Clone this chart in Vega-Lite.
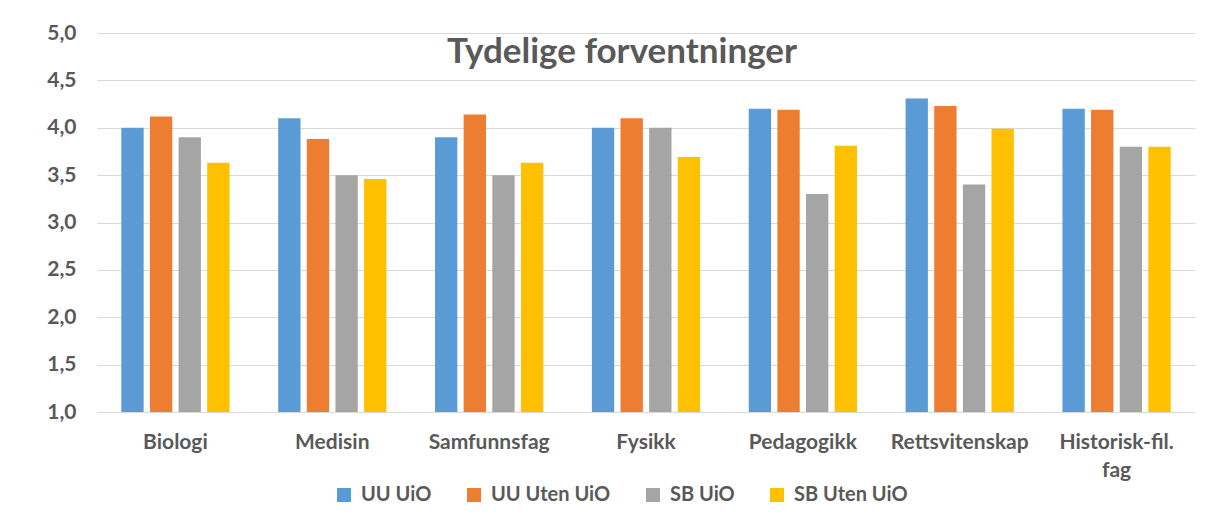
{
  "$schema": "https://vega.github.io/schema/vega-lite/v6.json",
  "width": 1098,
  "height": 379,
  "autosize": {"type": "none"},
  "padding": {"left": 97, "top": 33, "right": 24, "bottom": 115},
  "background": "white",
  "title": {
    "text": "Tydelige forventninger",
    "frame": "group",
    "anchor": "middle",
    "orient": "top",
    "baseline": "alphabetic",
    "offset": -34,
    "dy": 42,
    "dx": -24,
    "font": "Lato",
    "fontSize": 35,
    "fontWeight": "bold",
    "color": "#595959"
  },
  "data": {
    "values": [
      {"fag": "Biologi", "gruppe": "UU UiO", "verdi": 4.0},
      {"fag": "Biologi", "gruppe": "UU Uten UiO", "verdi": 4.12},
      {"fag": "Biologi", "gruppe": "SB UiO", "verdi": 3.9},
      {"fag": "Biologi", "gruppe": "SB Uten UiO", "verdi": 3.63},
      {"fag": "Medisin", "gruppe": "UU UiO", "verdi": 4.1},
      {"fag": "Medisin", "gruppe": "UU Uten UiO", "verdi": 3.88},
      {"fag": "Medisin", "gruppe": "SB UiO", "verdi": 3.5},
      {"fag": "Medisin", "gruppe": "SB Uten UiO", "verdi": 3.46},
      {"fag": "Samfunnsfag", "gruppe": "UU UiO", "verdi": 3.9},
      {"fag": "Samfunnsfag", "gruppe": "UU Uten UiO", "verdi": 4.14},
      {"fag": "Samfunnsfag", "gruppe": "SB UiO", "verdi": 3.5},
      {"fag": "Samfunnsfag", "gruppe": "SB Uten UiO", "verdi": 3.63},
      {"fag": "Fysikk", "gruppe": "UU UiO", "verdi": 4.0},
      {"fag": "Fysikk", "gruppe": "UU Uten UiO", "verdi": 4.1},
      {"fag": "Fysikk", "gruppe": "SB UiO", "verdi": 4.0},
      {"fag": "Fysikk", "gruppe": "SB Uten UiO", "verdi": 3.69},
      {"fag": "Pedagogikk", "gruppe": "UU UiO", "verdi": 4.2},
      {"fag": "Pedagogikk", "gruppe": "UU Uten UiO", "verdi": 4.19},
      {"fag": "Pedagogikk", "gruppe": "SB UiO", "verdi": 3.3},
      {"fag": "Pedagogikk", "gruppe": "SB Uten UiO", "verdi": 3.81},
      {"fag": "Rettsvitenskap", "gruppe": "UU UiO", "verdi": 4.31},
      {"fag": "Rettsvitenskap", "gruppe": "UU Uten UiO", "verdi": 4.23},
      {"fag": "Rettsvitenskap", "gruppe": "SB UiO", "verdi": 3.4},
      {"fag": "Rettsvitenskap", "gruppe": "SB Uten UiO", "verdi": 3.99},
      {"fag": "Historisk-fil. fag", "gruppe": "UU UiO", "verdi": 4.2},
      {"fag": "Historisk-fil. fag", "gruppe": "UU Uten UiO", "verdi": 4.19},
      {"fag": "Historisk-fil. fag", "gruppe": "SB UiO", "verdi": 3.8},
      {"fag": "Historisk-fil. fag", "gruppe": "SB Uten UiO", "verdi": 3.8}
    ]
  },
  "mark": {"type": "bar"},
  "encoding": {
    "x": {
      "field": "fag",
      "type": "nominal",
      "sort": null,
      "scale": {"paddingInner": 0.31, "paddingOuter": 0.155},
      "axis": {
        "title": null,
        "labelAngle": 0,
        "domain": false,
        "ticks": false,
        "labelPadding": 19,
        "labelFont": "Lato",
        "labelFontSize": 21,
        "labelFontWeight": "bold",
        "labelColor": "#595959",
        "labelLineHeight": 28,
        "labelBaseline": "top",
        "labelExpr": "datum.label == 'Historisk-fil. fag' ? ['Historisk-fil.', 'fag'] : datum.label"
      }
    },
    "xOffset": {
      "field": "gruppe",
      "type": "nominal",
      "sort": ["UU UiO", "UU Uten UiO", "SB UiO", "SB Uten UiO"],
      "scale": {"paddingInner": 0.22, "paddingOuter": 0}
    },
    "y": {
      "field": "verdi",
      "type": "quantitative",
      "scale": {"domain": [1, 5], "zero": false, "nice": false},
      "axis": {
        "title": null,
        "values": [1, 1.5, 2, 2.5, 3, 3.5, 4, 4.5, 5],
        "labelExpr": "replace(format(datum.value, '.1f'), '.', ',')",
        "domain": false,
        "ticks": false,
        "labelPadding": 21,
        "labelFont": "Lato",
        "labelFontSize": 21,
        "labelFontWeight": "bold",
        "labelColor": "#595959",
        "gridColor": "#d9d9d9",
        "gridWidth": 1
      }
    },
    "y2": {"datum": 1},
    "color": {
      "field": "gruppe",
      "type": "nominal",
      "sort": ["UU UiO", "UU Uten UiO", "SB UiO", "SB Uten UiO"],
      "scale": {
        "domain": ["UU UiO", "UU Uten UiO", "SB UiO", "SB Uten UiO"],
        "range": ["#5B9BD5", "#ED7D31", "#A5A5A5", "#FFC000"]
      },
      "legend": {
        "title": null,
        "orient": "none",
        "direction": "horizontal",
        "legendX": 237,
        "legendY": 452,
        "columns": 4,
        "columnPadding": 32,
        "symbolType": "square",
        "symbolSize": 196,
        "symbolStrokeWidth": 0,
        "labelFont": "Lato",
        "labelFontSize": 20,
        "labelFontWeight": "bold",
        "labelColor": "#595959",
        "labelOffset": 7
      }
    }
  },
  "config": {
    "view": {"stroke": null}
  }
}
